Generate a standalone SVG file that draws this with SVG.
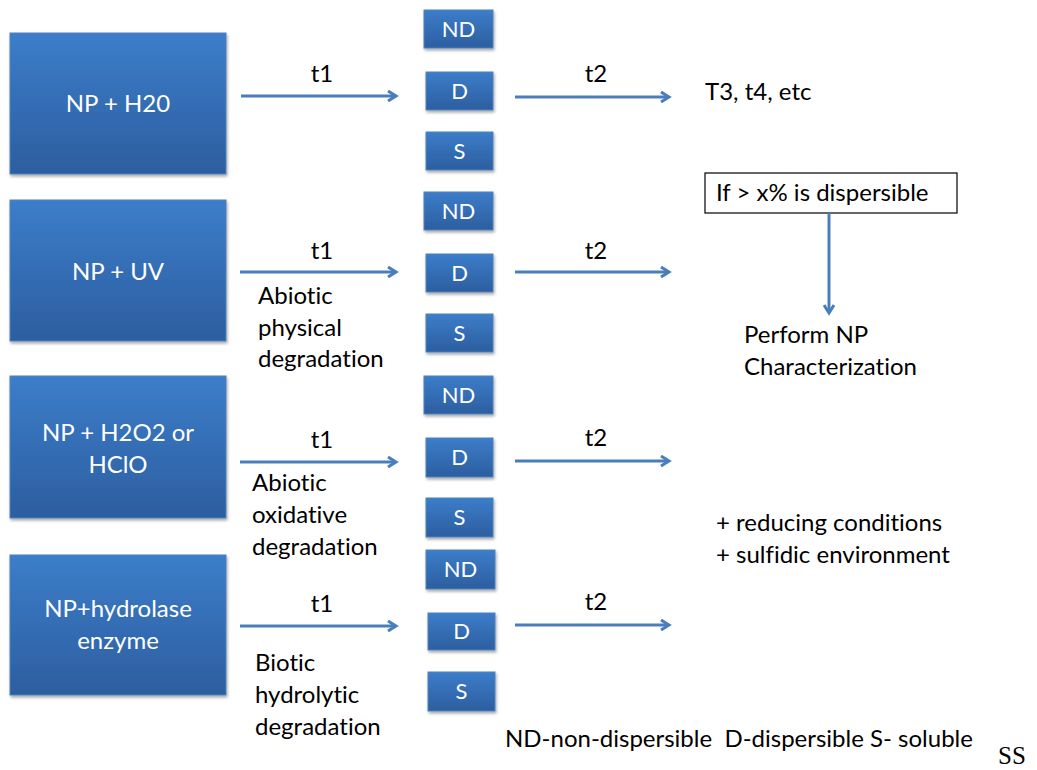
<svg xmlns="http://www.w3.org/2000/svg" width="1037" height="770" viewBox="0 0 1037 770">
<defs>
<linearGradient id="g" x1="0" y1="0" x2="0" y2="1">
<stop offset="0" stop-color="#3c7dca"/>
<stop offset="1" stop-color="#2c5e9f"/>
</linearGradient>
<filter id="sh" x="-10%" y="-10%" width="130%" height="130%">
<feDropShadow dx="1" dy="2" stdDeviation="1.5" flood-color="#000" flood-opacity="0.35"/>
</filter>
<marker id="ah" markerWidth="12" markerHeight="12" refX="9" refY="6" orient="auto" markerUnits="userSpaceOnUse">
<path d="M1,1 L9,6 L1,11" fill="none" stroke="#4a7ebb" stroke-width="3"/>
</marker>
<style>
text{font-family:Lato,"Open Sans",sans-serif;font-variant-ligatures:none}
.box{fill:url(#g);stroke:#4f81bd;stroke-width:1;filter:url(#sh)}
.wt{fill:#fff;font-size:24px;text-anchor:middle}
.st{fill:#fff;font-size:22px;text-anchor:middle}
.t{fill:#000;font-size:24px}
.c{text-anchor:middle}
.ser{font-family:"Liberation Serif",serif;font-size:25px;fill:#000}
.ar{stroke:#4a7ebb;stroke-width:3;fill:none;marker-end:url(#ah)}
</style>
</defs>
<rect width="1037" height="770" fill="#fff"/>

<g id="src1"><rect class="box" x="10" y="33" width="216" height="141"/><text class="wt" x="118" y="112">NP + H20</text></g>
<g id="src2"><rect class="box" x="10" y="200" width="216" height="141"/><text class="wt" x="118" y="280">NP + UV</text></g>
<g id="src3"><rect class="box" x="10" y="376" width="216" height="142"/><text class="wt" x="118" y="441">NP + H2O2 or</text><text class="wt" x="118" y="473">HClO</text></g>
<g id="src4"><rect class="box" x="10" y="555" width="216" height="140"/><text class="wt" x="118" y="617">NP+hydrolase</text><text class="wt" x="118" y="649">enzyme</text></g>

<g id="r1nd"><rect class="box" x="424" y="10" width="69" height="38"/><text class="st" x="458.5" y="37">ND</text></g>
<g id="r1d"><rect class="box" x="426" y="72" width="67" height="38"/><text class="st" x="459.5" y="99">D</text></g>
<g id="r1s"><rect class="box" x="426" y="132" width="67" height="38"/><text class="st" x="459.5" y="159">S</text></g>

<g id="r2nd"><rect class="box" x="424" y="192" width="69" height="38"/><text class="st" x="458.5" y="219">ND</text></g>
<g id="r2d"><rect class="box" x="426" y="254" width="67" height="38"/><text class="st" x="459.5" y="281">D</text></g>
<g id="r2s"><rect class="box" x="426" y="314" width="67" height="38"/><text class="st" x="459.5" y="341">S</text></g>

<g id="r3nd"><rect class="box" x="424" y="376" width="69" height="38"/><text class="st" x="458.5" y="403">ND</text></g>
<g id="r3d"><rect class="box" x="426" y="438" width="67" height="39"/><text class="st" x="459.5" y="465">D</text></g>
<g id="r3s"><rect class="box" x="426" y="498" width="67" height="39"/><text class="st" x="459.5" y="525">S</text></g>

<g id="r4nd"><rect class="box" x="426" y="550" width="69" height="39"/><text class="st" x="460.5" y="577">ND</text></g>
<g id="r4d"><rect class="box" x="428" y="613" width="67" height="37"/><text class="st" x="461.5" y="639">D</text></g>
<g id="r4s"><rect class="box" x="428" y="672" width="67" height="39"/><text class="st" x="461.5" y="699">S</text></g>

<g id="cond"><rect x="705" y="173" width="252" height="40" fill="#fff" stroke="#000" stroke-width="1.2"/><text class="t" x="716" y="201">If &gt; x% is dispersible</text></g>

<g id="connectors">
<line class="ar" x1="241" y1="96" x2="396" y2="96"/>
<line class="ar" x1="515" y1="97" x2="669" y2="97"/>
<line class="ar" x1="240" y1="272" x2="396" y2="272"/>
<line class="ar" x1="515" y1="272" x2="669" y2="272"/>
<line class="ar" x1="240" y1="462" x2="396" y2="462"/>
<line class="ar" x1="515" y1="461" x2="669" y2="461"/>
<line class="ar" x1="240" y1="626" x2="396" y2="626"/>
<line class="ar" x1="515" y1="625" x2="669" y2="625"/>
<line class="ar" x1="829" y1="213" x2="829" y2="313"/>
</g>

<g id="labels">
<text class="t c" x="322" y="82">t1</text>
<text class="t c" x="596" y="82">t2</text>
<text class="t c" x="322" y="259">t1</text>
<text class="t c" x="596" y="259">t2</text>
<text class="t c" x="322" y="448">t1</text>
<text class="t c" x="596" y="446">t2</text>
<text class="t c" x="322" y="612">t1</text>
<text class="t c" x="596" y="610">t2</text>

<text class="t" x="705" y="100">T3, t4, etc</text>

<text class="t" x="258" y="304">Abiotic</text>
<text class="t" x="258" y="336">physical</text>
<text class="t" x="258" y="367">degradation</text>

<text class="t" x="252" y="491">Abiotic</text>
<text class="t" x="252" y="523">oxidative</text>
<text class="t" x="252" y="555">degradation</text>

<text class="t" x="255" y="671">Biotic</text>
<text class="t" x="255" y="703">hydrolytic</text>
<text class="t" x="255" y="735">degradation</text>

<text class="t" x="744" y="343">Perform NP</text>
<text class="t" x="744" y="375">Characterization</text>

<text class="t" x="716" y="531">+ reducing conditions</text>
<text class="t" x="716" y="563">+ sulfidic environment</text>

<text class="t" x="505" y="747" style="white-space:pre">ND-non-dispersible  D-dispersible S- soluble</text>
<text class="ser" x="998" y="764">SS</text>
</g>
</svg>
